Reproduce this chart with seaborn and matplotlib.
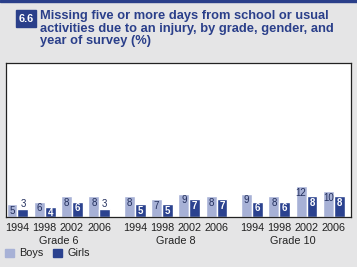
import matplotlib
matplotlib.use("Agg")
import matplotlib.pyplot as plt
import seaborn as sns
import pandas as pd
from matplotlib.patches import Rectangle

grades = ["Grade 6", "Grade 8", "Grade 10"]
years = ["1994", "1998", "2002", "2006"]
boys = [5, 6, 8, 8, 8, 7, 9, 8, 9, 8, 12, 10]
girls = [3, 4, 6, 3, 5, 5, 7, 7, 6, 6, 8, 8]
title_num = "6.6"
title = "Missing five or more days from school or usual\nactivities due to an injury, by grade, gender, and\nyear of survey (%)"

BOYS_C = "#a7b1d6"
GIRLS_C = "#2b428f"
NAVY = "#2a3f8a"
BG = "#e5e5e6"

GAP = 4.3
rows = []
for g, gr in enumerate(grades):
    for i, yr in enumerate(years):
        k = g * 4 + i
        pos = i + g * GAP
        rows.append(dict(pos=pos, value=boys[k], gender="Boys", year=yr, grade=gr))
        rows.append(dict(pos=pos, value=girls[k], gender="Girls", year=yr, grade=gr))
df = pd.DataFrame(rows)

sns.set_style("white")
plt.rcParams["font.family"] = ["Liberation Sans", "DejaVu Sans"]

fig = plt.figure(figsize=(3.57, 2.67), dpi=100)
fig.patch.set_facecolor(BG)
W, H = 357, 267

# top rule
fig.add_artist(Rectangle((0, 1 - 2 / H), 1, 2 / H, transform=fig.transFigure,
                         color=NAVY, zorder=5))
# number box
fig.add_artist(Rectangle((16 / W, 1 - 27 / H), 20 / W, 17 / H, transform=fig.transFigure,
                         color=NAVY, zorder=5))
fig.text(26 / W, 1 - 18.5 / H, title_num, color="white", fontsize=7.8, fontweight="bold",
         ha="center", va="center", zorder=6)
fig.text(40 / W, 1 - 10.5 / H, title, color=NAVY, fontsize=9.3, fontweight="bold",
         ha="left", va="top", linespacing=1.05)

ax = fig.add_axes([6 / W, 1 - 217 / H, 345 / W, 154 / H])
ax.set_facecolor("white")
sns.barplot(data=df, x="pos", y="value", hue="gender", native_scale=True,
            palette={"Boys": BOYS_C, "Girls": GIRLS_C}, width=0.8,
            saturation=1, ax=ax, legend=False, errorbar=None)

ax.set_ylim(0, 60)
ax.set_xlim(-0.42, 3 + 2 * GAP + 0.63)
for s in ax.spines.values():
    s.set_color("#222222")
    s.set_linewidth(0.9)
ax.set_yticks([])
ax.set_xlabel("")
ax.set_ylabel("")

positions = sorted(df["pos"].unique())
ax.set_xticks(positions)
ax.set_xticklabels(years * 3, fontsize=7.8, color="#222222")
ax.tick_params(axis="x", length=0, pad=4)

# value labels
for p, b, gv in zip(positions, boys, girls):
    xb = p - 0.2
    xg = p + 0.2
    ax.text(xb, b - 0.6, str(b), ha="center", va="top", fontsize=7, color="#24305e")
    if gv < 4:
        ax.text(xg, gv + 0.3, str(gv), ha="center", va="bottom", fontsize=7, color="#24305e")
    else:
        ax.text(xg, gv - 0.6, str(gv), ha="center", va="top", fontsize=7,
                color="white", fontweight="bold")

# grade labels
for g, gr in enumerate(grades):
    c = 1.5 + g * GAP
    xf = (6 + (c + 0.42) / (3 + 2 * GAP + 0.63 + 0.42) * 345) / W
    fig.text(xf, 1 - 241 / H, gr, ha="center", va="center", fontsize=7.8, color="#222222")

# legend
for x0, lab, col in [(5, "Boys", BOYS_C), (53, "Girls", GIRLS_C)]:
    fig.add_artist(Rectangle((x0 / W, 1 - 257 / H), 9 / W, 8 / H,
                             transform=fig.transFigure, color=col))
    fig.text((x0 + 14) / W, 1 - 253 / H, lab, fontsize=7.8, color="#222222",
             ha="left", va="center")

fig.savefig("out.png", dpi=100, facecolor=BG)
